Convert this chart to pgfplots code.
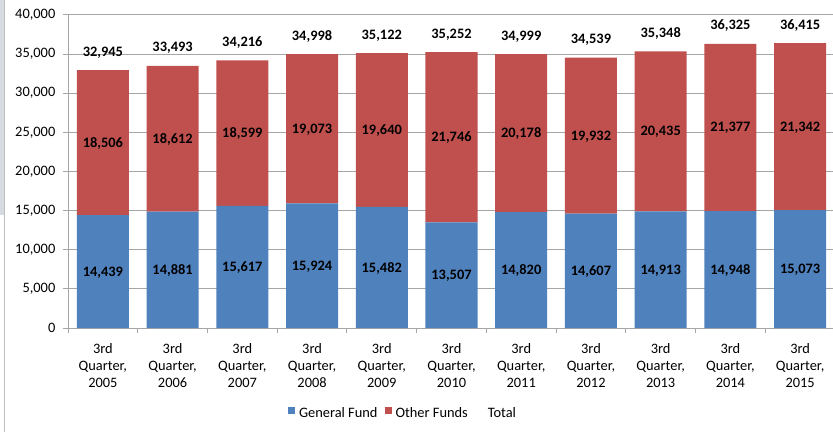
\documentclass[border=0pt]{standalone}
\usepackage{fontspec}
\setmainfont{Carlito}
\usepackage{pgfplots}
\usepackage{pgfplotstable}
\pgfplotsset{compat=1.18}

\definecolor{gfblue}{HTML}{4F81BD}
\definecolor{ofred}{HTML}{C0504D}
\definecolor{gridgray}{HTML}{A6A6A6}

\pgfplotstableread{
x g o t
0 14439 18506 32945
1 14881 18612 33493
2 15617 18599 34216
3 15924 19073 34998
4 15482 19640 35122
5 13507 21746 35252
6 14820 20178 34999
7 14607 19932 34539
8 14913 20435 35348
9 14948 21377 36325
10 15073 21342 36415
}\funds

\newcommand{\fs}{\fontsize{14.4bp}{17bp}\selectfont}

\pgfplotsset{
  /pgf/number format/.cd, 1000 sep={,}, assume math mode=true,
  /pgfplots/.cd,
  base/.style={
    at={(68bp,104bp)}, anchor=south west,
    scale only axis, width=767bp, height=313bp,
    xmin=-0.5, xmax=10.5, ymin=0, ymax=40000,
    font=\fs,
  },
  % stacked labels sit in the middle of their segment already
  seglabel/.style={
    visualization depends on=rawy \as \seg,
    nodes near coords={\textbf{\pgfmathprintnumber{\seg}}},
    every node near coord/.style={anchor=base, black, font=\fs, yshift=-4.6bp},
  },
}

\begin{document}
\begin{tikzpicture}
% left window edge
\fill[fill={rgb,255:red,214;green,219;blue,226}] (0,217bp) rectangle (4bp,432bp);
\draw[line width=1.5bp, color={rgb,255:red,190;green,190;blue,190}] (4.5bp,0) -- (4.5bp,432bp);

\begin{axis}[
  base,
  ybar stacked,
  bar width=0.746,
  axis lines*=left,
  axis line style={gridgray, line width=1bp},
  ymajorgrids,
  grid style={gridgray, line width=1bp},
  ytick={0,5000,...,40000},
  xtick={-0.5,0.5,1.5,2.5,3.5,4.5,5.5,6.5,7.5,8.5,9.5,10.5},
  x tick label as interval,
  xticklabels={{3rd\\Quarter,\\2005},{3rd\\Quarter,\\2006},{3rd\\Quarter,\\2007},
    {3rd\\Quarter,\\2008},{3rd\\Quarter,\\2009},{3rd\\Quarter,\\2010},
    {3rd\\Quarter,\\2011},{3rd\\Quarter,\\2012},{3rd\\Quarter,\\2013},
    {3rd\\Quarter,\\2014},{3rd\\Quarter,\\2015}},
  tick align=outside,
  major tick length=5bp,
  tick style={gridgray, line width=1bp},
  xticklabel style={align=center, anchor=north, inner sep=0pt, yshift=-10.5bp, font=\fs},
  yticklabel style={anchor=east, inner sep=0pt, xshift=-7.5bp, font=\fs},
  scaled y ticks=false,
  legend style={
    at={(0.4355,-0.2716)}, anchor=center,
    draw=none, fill=none, font=\fs,
    legend columns=-1,
    /tikz/every odd column/.append style={column sep=4bp},
    /tikz/every even column/.append style={column sep=7bp},
    nodes={inner sep=0pt},
  },
  legend image code/.code={\fill[#1] (0bp,-1bp) rectangle (7bp,6bp);},
  clip=false,
]
\addplot[fill=gfblue, draw=none, seglabel] table[x=x, y=g] {\funds};
\addlegendentry{General Fund}
\addplot[fill=ofred, draw=none, seglabel] table[x=x, y=o] {\funds};
\addlegendentry{Other Funds}
\addlegendimage{empty legend}
\addlegendentry{\hspace{9bp}Total}
\end{axis}

\begin{axis}[base, hide axis, clip=false]
\addplot[only marks, mark=none, point meta=explicit,
  nodes near coords={\textbf{\pgfmathprintnumber{\pgfplotspointmeta}}},
  every node near coord/.style={anchor=base, black, font=\fs, yshift=14bp}]
  table[x=x, y=t, meta=t] {\funds};
\end{axis}

\pgfresetboundingbox
\useasboundingbox (0,0) rectangle (833bp,432bp);
\end{tikzpicture}
\end{document}
